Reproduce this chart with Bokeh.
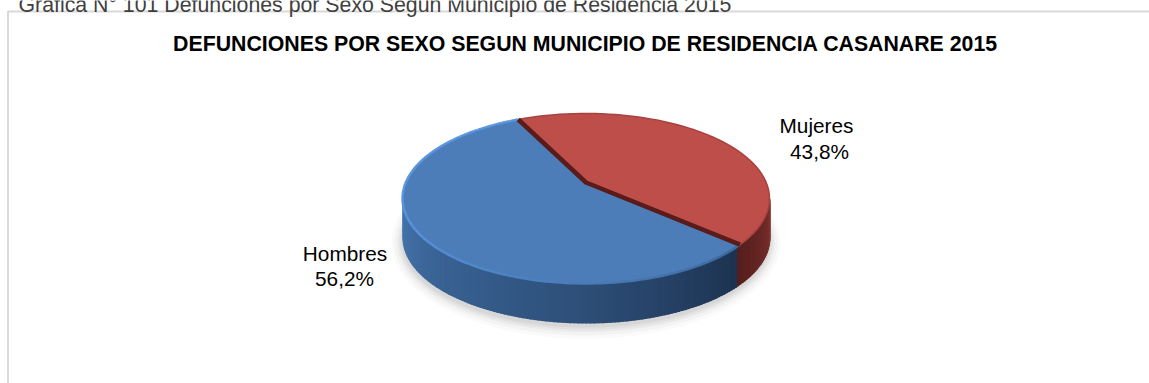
import numpy as np
from bokeh.plotting import figure
from bokeh.embed import file_html
from bokeh.resources import INLINE
from bokeh.core.properties import value

categories = ["Mujeres", "Hombres"]
shares = [43.8, 56.2]
pct_labels = ["43,8%", "56,2%"]
chart_title = "DEFUNCIONES POR SEXO SEGUN MUNICIPIO DE RESIDENCIA CASANARE 2015"
caption = "Grafica N° 101 Defunciones por Sexo Segun Municipio de Residencia 2015"

W, H = 1149, 383
CX, CY = 585.5, 182.0
A, B, K = 180.2, 82.0, 0.188
DEPTH = 40.0
START = -41.6
SIDE_SPLIT = 360 + START - 2.0
FONT = value("Liberation Sans")


def proj(theta_deg):
    t = np.radians(theta_deg)
    x, y = np.cos(t), np.sin(t)
    w = 1 + K * y
    return CX + A * x / w, CY - B * y / w


def mix(c1, c2, f):
    return "#%02x%02x%02x" % tuple(int(round(a + (b - a) * f)) for a, b in zip(c1, c2))


sweeps = [s / sum(shares) * 360 for s in shares]
red_a, red_b = START, START + sweeps[0]
blue_a, blue_b = red_b, red_b + sweeps[1]
left_ext = 180 + np.degrees(np.arcsin(K))
right_ext = 360 - np.degrees(np.arcsin(K))

p = figure(width=W, height=H, x_range=(0, W), y_range=(H, 0), toolbar_location=None,
           output_backend="svg", min_border=0, outline_line_color=None,
           background_fill_color="white", border_fill_color="white")
p.xaxis.visible = False
p.yaxis.visible = False
p.grid.visible = False

# frame
p.line([7.5, 7.5, W], [H, 11, 11], line_color="#d9d9d9", line_width=2)

# soft shadow under the disc
ring = np.linspace(0, 360, 181)
rx, ry = proj(ring)
for grow, alpha in [(11, 0.03), (8, 0.04), (5, 0.05), (3, 0.06), (1, 0.07)]:
    mx, my = rx.mean(), ry.mean()
    p.patch(mx + (rx - mx) * (1 + grow / 183), my + (ry - my) * (1 + grow / 85) + DEPTH + 3,
            fill_color="#555555", fill_alpha=alpha, line_color=None)

# side wall, blue part then red part
blue_stops = [(0.0, (70, 118, 174)), (0.25, (58, 100, 150)), (0.6, (46, 80, 122)), (1.0, (29, 50, 80))]


def blue_side(f):
    for (f0, c0), (f1, c1) in zip(blue_stops, blue_stops[1:]):
        if f <= f1:
            return mix(c0, c1, (f - f0) / (f1 - f0))
    return mix(blue_stops[-2][1], blue_stops[-1][1], 1)


edges = np.linspace(left_ext, SIDE_SPLIT, 120)
sx, sy, sc = [], [], []
for a, b in zip(edges[:-1], edges[1:]):
    xa, ya = proj(a)
    xb, yb = proj(b)
    sx.append([xa, xb + 1.2, xb + 1.2, xa])
    sy.append([ya, yb, yb + DEPTH, ya + DEPTH])
    sc.append(blue_side((a - left_ext) / (SIDE_SPLIT - left_ext)))
red_edges = np.linspace(SIDE_SPLIT, right_ext, 30)
rx2, ry2, rc2 = [], [], []
for a, b in zip(red_edges[:-1], red_edges[1:]):
    xa, ya = proj(a)
    xb, yb = proj(b)
    rx2.append([xa, xb + 1.0, xb + 1.0, xa])
    ry2.append([ya, yb, yb + DEPTH, ya + DEPTH])
    rc2.append(mix((84, 30, 28), (128, 50, 46), (a - SIDE_SPLIT) / (right_ext - SIDE_SPLIT)))
p.patches(rx2, ry2, fill_color=rc2, line_color=None)
p.patches(sx, sy, fill_color=sc, line_color=None)

# top faces
th = np.linspace(red_a, red_b, 160)
x, y = proj(th)
p.patch([CX, *x], [CY, *y], fill_color="#bd4e4a", line_color=None)
th = np.linspace(blue_a, blue_b, 200)
x, y = proj(th)
p.patch([CX, *x], [CY, *y], fill_color="#4c7db9", line_color=None)

# bevel along the rim
rim = np.linspace(blue_a, blue_b, 120)
rimx, rimy = proj(rim)
mx, my, mc = [], [], []
for i in range(len(rim) - 1):
    mx.append([rimx[i], rimx[i + 1]])
    my.append([rimy[i], rimy[i + 1]])
    f = (rim[i] - blue_a) / (blue_b - blue_a)
    mc.append(mix((88, 148, 220), (60, 104, 156), max(0.0, (f - 0.45) / 0.55)))
p.multi_line(mx, my, line_color=mc, line_width=2.5)
rim = np.linspace(red_a, red_b, 60)
rimx, rimy = proj(rim)
p.line(rimx, rimy, line_color="#a9413e", line_width=1.5)

# dark seam between the slices
ex, ey = proj(np.array([red_a, red_b]))
p.line([ex[0], CX, ex[1]], [ey[0], CY, ey[1]], line_color="#5a1c1a", line_width=4.5, line_join="round")

# texts
p.text([18], [4], text=[caption], text_font=FONT, text_font_size="21.3px", text_color="#404040",
       text_baseline="alphabetic")
p.text([585], [43], text=[chart_title], text_font=FONT, text_font_size="21.3px", text_font_style="bold",
       text_color="black", text_align="center", text_baseline="middle")
p.text([816, 344.5], [125, 253], text=categories, text_font=FONT, text_font_size="20.8px",
       text_color="black", text_align="center", text_baseline="middle")
p.text([819, 344], [151, 278], text=pct_labels, text_font=FONT, text_font_size="20.8px",
       text_color="black", text_align="center", text_baseline="middle")

open("out.html", "w").write(file_html(p, INLINE))
